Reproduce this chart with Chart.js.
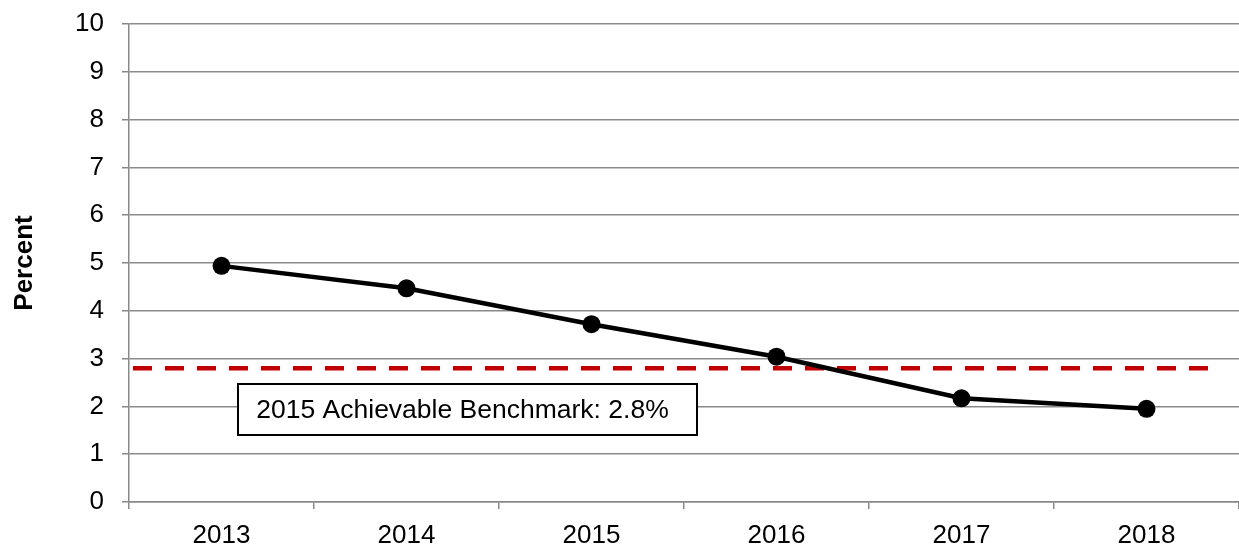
<!DOCTYPE html>
<html>
<head>
<meta charset="utf-8">
<script src="https://cdn.jsdelivr.net/npm/chart.js@4.4.1/dist/chart.umd.min.js"></script>
<style>
  html, body { margin: 0; padding: 0; background: #ffffff; }
  #wrap { width: 1239px; height: 546px; }
</style>
</head>
<body>
<div id="wrap"><canvas id="c" width="1239" height="546"></canvas></div>
<script>
// Yearly rate, percent
const years = ['2013', '2014', '2015', '2016', '2017', '2018'];
const percentValues = [4.94, 4.47, 3.72, 3.04, 2.17, 1.95];
const yTicks = [0, 1, 2, 3, 4, 5, 6, 7, 8, 9, 10];
const benchmarkValue = 2.8;
const benchmarkLabel = '2015 Achievable Benchmark: 2.8%';
const yTitle = 'Percent';

const FONT = "'Liberation Sans', Arial, sans-serif";
const GRID = '#898989';

// Dashed benchmark line plus its caption box
const benchmarkPlugin = {
  id: 'benchmark',
  beforeDatasetsDraw(chart) {
    const { ctx, chartArea, scales } = chart;
    const y = scales.y.getPixelForValue(benchmarkValue);
    ctx.save();
    ctx.strokeStyle = '#C00000';
    ctx.lineWidth = 4.5;
    ctx.setLineDash([19, 13]);
    ctx.beginPath();
    ctx.moveTo(chartArea.left + 4, y);
    ctx.lineTo(chartArea.right - 24, y);
    ctx.stroke();
    ctx.restore();
  },
  afterDatasetsDraw(chart) {
    const { ctx, chartArea } = chart;
    const left = chartArea.left + 109, top = 384, w = 459, h = 51;
    ctx.save();
    ctx.fillStyle = '#ffffff';
    ctx.fillRect(left, top, w, h);
    ctx.strokeStyle = '#000000';
    ctx.lineWidth = 2;
    ctx.strokeRect(left, top, w, h);
    ctx.fillStyle = '#000000';
    ctx.font = '26.5px ' + FONT;
    ctx.textAlign = 'center';
    ctx.textBaseline = 'middle';
    ctx.fillText(benchmarkLabel, left + w / 2 - 5, top + h / 2 + 1);
    ctx.restore();
  }
};

new Chart(document.getElementById('c'), {
  type: 'line',
  data: {
    labels: years,
    datasets: [{
      data: percentValues,
      borderColor: '#000000',
      backgroundColor: '#000000',
      borderWidth: 4.5,
      pointRadius: 9,
      pointHoverRadius: 9,
      pointBackgroundColor: '#000000',
      pointBorderColor: '#000000',
      pointBorderWidth: 0,
      tension: 0,
      clip: false
    }]
  },
  options: {
    responsive: false,
    animation: false,
    events: [],
    layout: { autoPadding: false, padding: { top: 24, right: 0, left: 0, bottom: 0 } },
    plugins: { legend: { display: false }, tooltip: { enabled: false } },
    scales: {
      x: {
        type: 'category',
        offset: true,
        grid: {
          offset: true,
          drawOnChartArea: false,
          drawTicks: true,
          tickLength: 7,
          color: GRID,
          lineWidth: 1.5
        },
        border: { color: GRID, width: 1.5 },
        ticks: {
          color: '#000000',
          font: { family: FONT, size: 26 },
          padding: 11,
          maxRotation: 0
        },
        afterFit(scale) {
          scale.height = 44;
          scale.paddingLeft = 0;
          scale.paddingRight = 0;
        }
      },
      y: {
        min: 0,
        max: 10,
        afterBuildTicks(scale) { scale.ticks = yTicks.map(v => ({ value: v })); },
        grid: {
          color: GRID,
          lineWidth: 1.5,
          tickLength: 7
        },
        border: { color: GRID, width: 1.5 },
        ticks: {
          color: '#000000',
          font: { family: FONT, size: 26 },
          padding: 18
        },
        title: {
          display: true,
          text: yTitle,
          color: '#000000',
          font: { family: FONT, size: 26, weight: 'bold' },
          padding: { top: 9, bottom: 0 }
        },
        afterFit(scale) {
          scale.width = 129;
          scale.paddingTop = 0;
          scale.paddingBottom = 0;
        }
      }
    }
  },
  plugins: [benchmarkPlugin]
});
</script>
</body>
</html>
